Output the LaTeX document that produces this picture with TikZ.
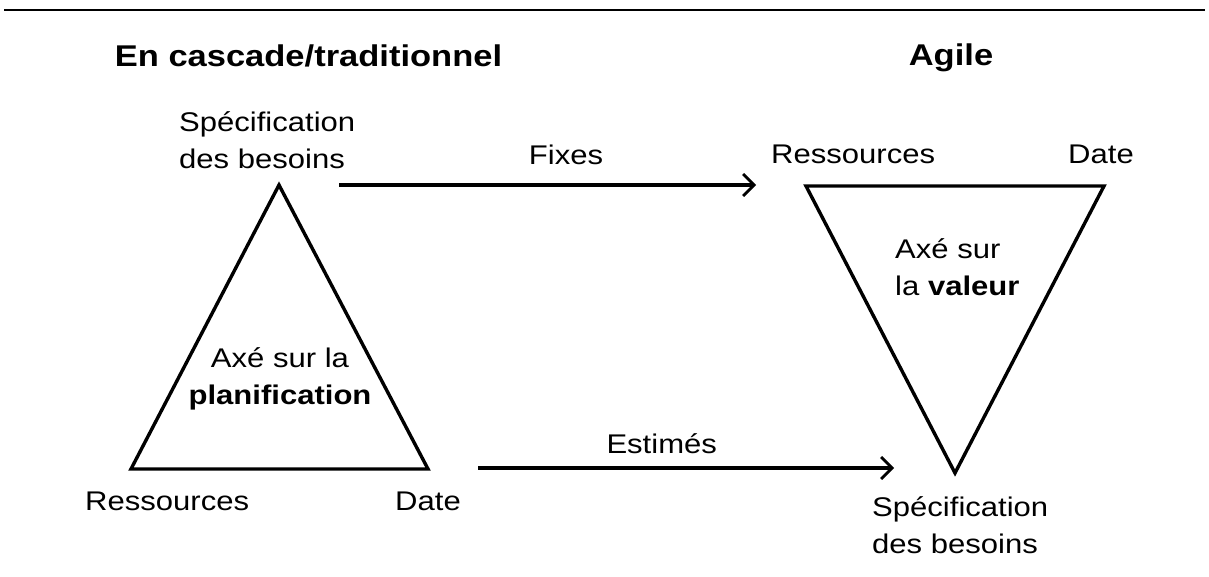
\documentclass[tikz,border=0pt]{standalone}
\usepackage{fontspec}
\setmainfont[FakeStretch=1.15]{Liberation Sans}
\usetikzlibrary{arrows.meta}
\begin{document}
\begin{tikzpicture}[x=1pt,y=-1pt,
  lbl/.style={inner sep=0pt,font=\fontsize{27}{37}\selectfont,align=left},
  ttl/.style={inner sep=0pt,font=\fontsize{30}{36}\selectfont\bfseries},
  tri/.style={line width=3.4pt,line join=miter},
  flow/.style={line width=3.2pt,-{Straight Barb[length=11pt,width=22pt,line width=2.8pt]}}]
\useasboundingbox (0,0) rectangle (1209,576);
% rule across the top
\coordinate (r1) at (4,10);
\coordinate (r2) at (1205,10);
\draw[line width=1.4pt] (r1) -- (r2);
% headings
\node[ttl,anchor=base] (hwater) at (308.5,66) {En cascade/traditionnel};
\node[ttl,anchor=base] (hagile) at (951,65) {Agile};
% waterfall triangle
\coordinate (wa) at (279,185);
\coordinate (wl) at (131,469);
\coordinate (wr) at (428,469);
\draw[tri] (wa) -- (wl) -- (wr) -- cycle;
% agile triangle (inverted)
\coordinate (al) at (806,186);
\coordinate (ar) at (1104,186);
\coordinate (ab) at (955,473);
\draw[tri] (al) -- (ar) -- (ab) -- cycle;
% labels (multi-line nodes sit on the baseline of their last line)
\node[lbl,anchor=base west] (specL) at (179,168) {Spécification\\des besoins};
\node[lbl,anchor=base west] (resL) at (85,510.7) {Ressources};
\node[lbl,anchor=base west] (dateL) at (395,510.7) {Date};
\node[lbl,anchor=base,align=center] (axeL) at (280,404) {Axé sur la\\\textbf{planification}};
\node[lbl,anchor=base west] (resR) at (771,163) {Ressources};
\node[lbl,anchor=base west] (dateR) at (1068,163) {Date};
\node[lbl,anchor=base west] (axeR) at (895,295) {Axé sur\\la \textbf{valeur}};
\node[lbl,anchor=base west] (specR) at (872,553) {Spécification\\des besoins};
% arrows between the two approaches
\coordinate (f1) at (339,185);
\coordinate (f2) at (756,185);
\coordinate (e1) at (478,468);
\coordinate (e2) at (894,468);
\draw[flow] (f1) -- (f2);
\draw[flow] (e1) -- (e2);
\node[lbl,anchor=base] (fixes) at (566,164) {Fixes};
\node[lbl,anchor=base] (estimes) at (661.7,453) {Estimés};
\end{tikzpicture}
\end{document}
